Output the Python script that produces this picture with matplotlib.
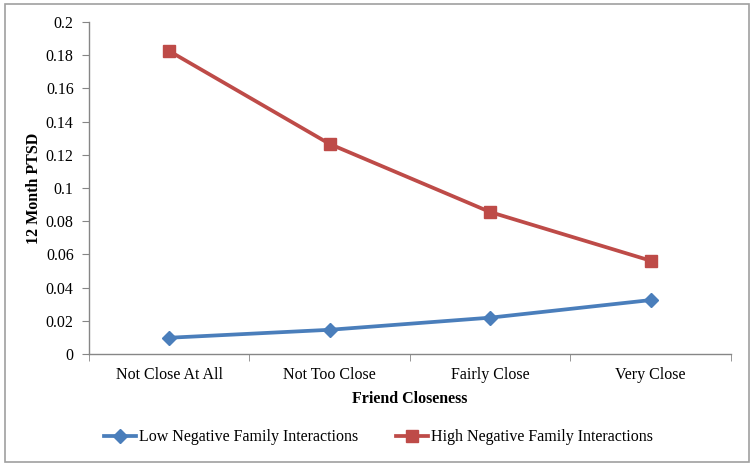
import matplotlib
matplotlib.use("Agg")
import matplotlib.pyplot as plt
from matplotlib.patches import Rectangle

categories = ["Not Close At All", "Not Too Close", "Fairly Close", "Very Close"]
low_vals = [0.0098, 0.0146, 0.0219, 0.0325]
high_vals = [0.1825, 0.1265, 0.0855, 0.0562]
yticks = [0, 0.02, 0.04, 0.06, 0.08, 0.1, 0.12, 0.14, 0.16, 0.18, 0.2]
ytick_labels = ["0", "0.02", "0.04", "0.06", "0.08", "0.1", "0.12", "0.14", "0.16", "0.18", "0.2"]

plt.rcParams['font.family'] = ['Liberation Serif', 'DejaVu Serif']

fig = plt.figure(figsize=(7.54, 4.66), dpi=100)
ax = fig.add_axes([0.118, 0.2403, 0.8515, 0.7125])

x = list(range(len(categories)))
ax.plot(x, low_vals, color="#4A7EBB", lw=2.7, marker="D", ms=7.5, label="Low Negative Family Interactions")
ax.plot(x, high_vals, color="#BE4B48", lw=2.7, marker="s", ms=8, label="High Negative Family Interactions")

ax.set_xlim(-0.5, len(categories) - 0.5)
ax.set_ylim(0, 0.2)
ax.set_yticks(yticks)
ax.set_yticklabels(ytick_labels, fontsize=11.5)
ax.set_xticks(x)
ax.set_xticklabels(categories, fontsize=11.5)
ax.set_xticks([i - 0.5 for i in range(len(categories) + 1)], minor=True)
ax.tick_params(axis='x', which='major', length=0, pad=9)
ax.tick_params(axis='x', which='minor', length=5, color="#868686", direction='out')
ax.tick_params(axis='y', length=5, color="#868686", direction='out', pad=6)

for s in ["top", "right"]:
    ax.spines[s].set_visible(False)
for s in ["left", "bottom"]:
    ax.spines[s].set_color("#868686")
    ax.spines[s].set_linewidth(1.0)

ax.set_xlabel("Friend Closeness", fontsize=11.5, fontweight="bold", labelpad=6)
ax.set_ylabel("12 Month PTSD", fontsize=11.5, fontweight="bold", labelpad=3)

fig.legend(loc="center", bbox_to_anchor=(0.502, 0.062), ncol=2, frameon=False,
           fontsize=11.5, handlelength=2.0, columnspacing=2.4, handletextpad=0.15)

fig.patches.append(Rectangle((0.007, 0.009), 0.986, 0.982, transform=fig.transFigure,
                             fill=False, edgecolor="#A0A0A0", lw=1.2))

fig.savefig("out.png", dpi=100)
